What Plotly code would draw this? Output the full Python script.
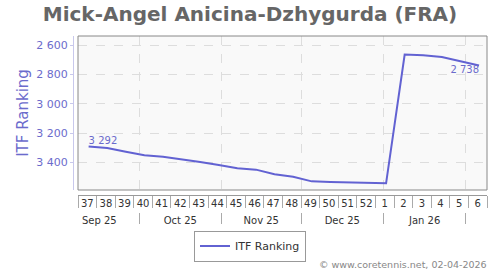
import plotly.graph_objects as go

# ---- data ----
week_dates = [
    "2025-09-12", "2025-09-19", "2025-09-26", "2025-10-03", "2025-10-10",
    "2025-10-17", "2025-10-24", "2025-10-31", "2025-11-07", "2025-11-14",
    "2025-11-21", "2025-11-28", "2025-12-05", "2025-12-12", "2025-12-19",
    "2025-12-26", "2026-01-02", "2026-01-09", "2026-01-16", "2026-01-23",
    "2026-01-30", "2026-02-06",
]
itf_ranking = [
    3292, 3302, 3328, 3352, 3362, 3378, 3398, 3418, 3441, 3450, 3482,
    3498, 3530, 3534, 3537, 3541, 3543, 2664, 2668, 2680, 2707, 2738,
]
y_ticks = [2600, 2800, 3000, 3200, 3400]
series_name = "ITF Ranking"
title_text = "Mick-Angel Anicina-Dzhygurda (FRA)"
credit_text = "© www.coretennis.net, 02-04-2026"
week_label_alias = {f"{i:02d}": str(i) for i in range(1, 10)}


def fmt(v):
    return f"{v:,}".replace(",", " ")


labels = [fmt(v) if i in (0, len(itf_ranking) - 1) else "" for i, v in enumerate(itf_ranking)]
positions = ["top right" if i == 0 else "bottom left" for i in range(len(itf_ranking))]

FONT = "DejaVu Sans"
BLUE = "#6262d2"
LABEL_BLUE = "#6b6bcc"

W, H = 500, 270
ML, MR, MT, MB = 70, 13, 36, 0
PW = W - ML - MR
PH = H - MT - MB


def px_x(x):
    return (x - ML) / PW


def px_y(y):
    return (H - MB - y) / PH


fig = go.Figure()
fig.add_trace(go.Scatter(
    x=week_dates, y=itf_ranking, mode="lines+text", name=series_name,
    line=dict(color=BLUE, width=2),
    text=labels, textposition=positions,
    textfont=dict(family=FONT, size=10, color=LABEL_BLUE),
    cliponaxis=False,
    xaxis="x", yaxis="y",
))
# invisible trace to activate the month axis
fig.add_trace(go.Scatter(
    x=[week_dates[0], week_dates[-1]], y=[itf_ranking[0], itf_ranking[-1]],
    mode="markers", marker=dict(opacity=0), showlegend=False, hoverinfo="skip",
    xaxis="x2", yaxis="y",
))

xrange = ["2025-09-08", "2026-02-09"]

fig.update_layout(
    width=W, height=H,
    margin=dict(l=ML, r=MR, t=MT, b=MB, pad=0),
    paper_bgcolor="white",
    plot_bgcolor="#f9f9f9",
    font=dict(family=FONT, color="#333333"),
    separators=". ",
    title=dict(text=f"<b>{title_text}</b>", x=0.5, xref="container", xanchor="center",
               y=1 - 14 / H, yref="container", yanchor="middle",
               font=dict(family=FONT, size=20, color="#666666")),
    xaxis=dict(
        type="date", range=xrange, domain=[px_x(78), 1],
        anchor="free", position=px_y(195),
        tick0="2025-09-08", dtick=7 * 24 * 3600 * 1000,
        ticklabelmode="period", tickformat="%V", labelalias=week_label_alias,
        ticks="outside", ticklen=12, tickcolor="#aaaaaa", tickwidth=1,
        ticklabelstandoff=-13,
        showline=True, linecolor="#999999", linewidth=1,
        showgrid=False, zeroline=False,
        tickfont=dict(family=FONT, size=10, color="#333333"),
    ),
    xaxis2=dict(
        type="date", range=xrange, domain=[px_x(78), 1],
        overlaying="x", anchor="free", position=px_y(212), side="bottom",
        dtick="M1", tick0="2025-09-01",
        ticklabelmode="period", tickformat="%b %y",
        ticks="outside", ticklen=11, tickcolor="#aaaaaa", tickwidth=1,
        ticklabelstandoff=-12,
        showline=False,
        showgrid=True, gridcolor="#dddddd", griddash="dash", gridwidth=1,
        zeroline=False,
        tickfont=dict(family=FONT, size=10, color="#333333"),
    ),
    yaxis=dict(
        range=[3589, 2537], domain=[px_y(190), 1],
        anchor="free", position=px_x(73),
        tickvals=y_ticks, tickformat=",d",
        ticks="outside", ticklen=3, tickcolor="#c8c8ec",
        showline=True, linecolor="#c8c8ec", linewidth=1,
        showgrid=True, gridcolor="#dddddd", griddash="dash", gridwidth=1,
        zeroline=False,
        tickfont=dict(family=FONT, size=11, color=LABEL_BLUE),
        title=dict(text=series_name, font=dict(family=FONT, size=15, color=LABEL_BLUE), standoff=3),
    ),
    showlegend=True,
    legend=dict(
        orientation="h",
        x=px_x(250), xanchor="center", y=px_y(246), yanchor="middle",
        bordercolor="#999999", borderwidth=1, bgcolor="white",
        font=dict(family=FONT, size=11, color="#333333"),
        itemwidth=30,
    ),
)

# plot area border
fig.add_shape(type="rect", xref="x domain", yref="y domain", x0=0, x1=1, y0=0, y1=1,
              line=dict(color="#888888", width=1), layer="above")

fig.add_annotation(text=credit_text, xref="paper", yref="paper",
                   x=px_x(489), y=px_y(264), xanchor="right", yanchor="middle",
                   showarrow=False, font=dict(family=FONT, size=9.5, color="#888888"))

fig.write_html("out.html")
